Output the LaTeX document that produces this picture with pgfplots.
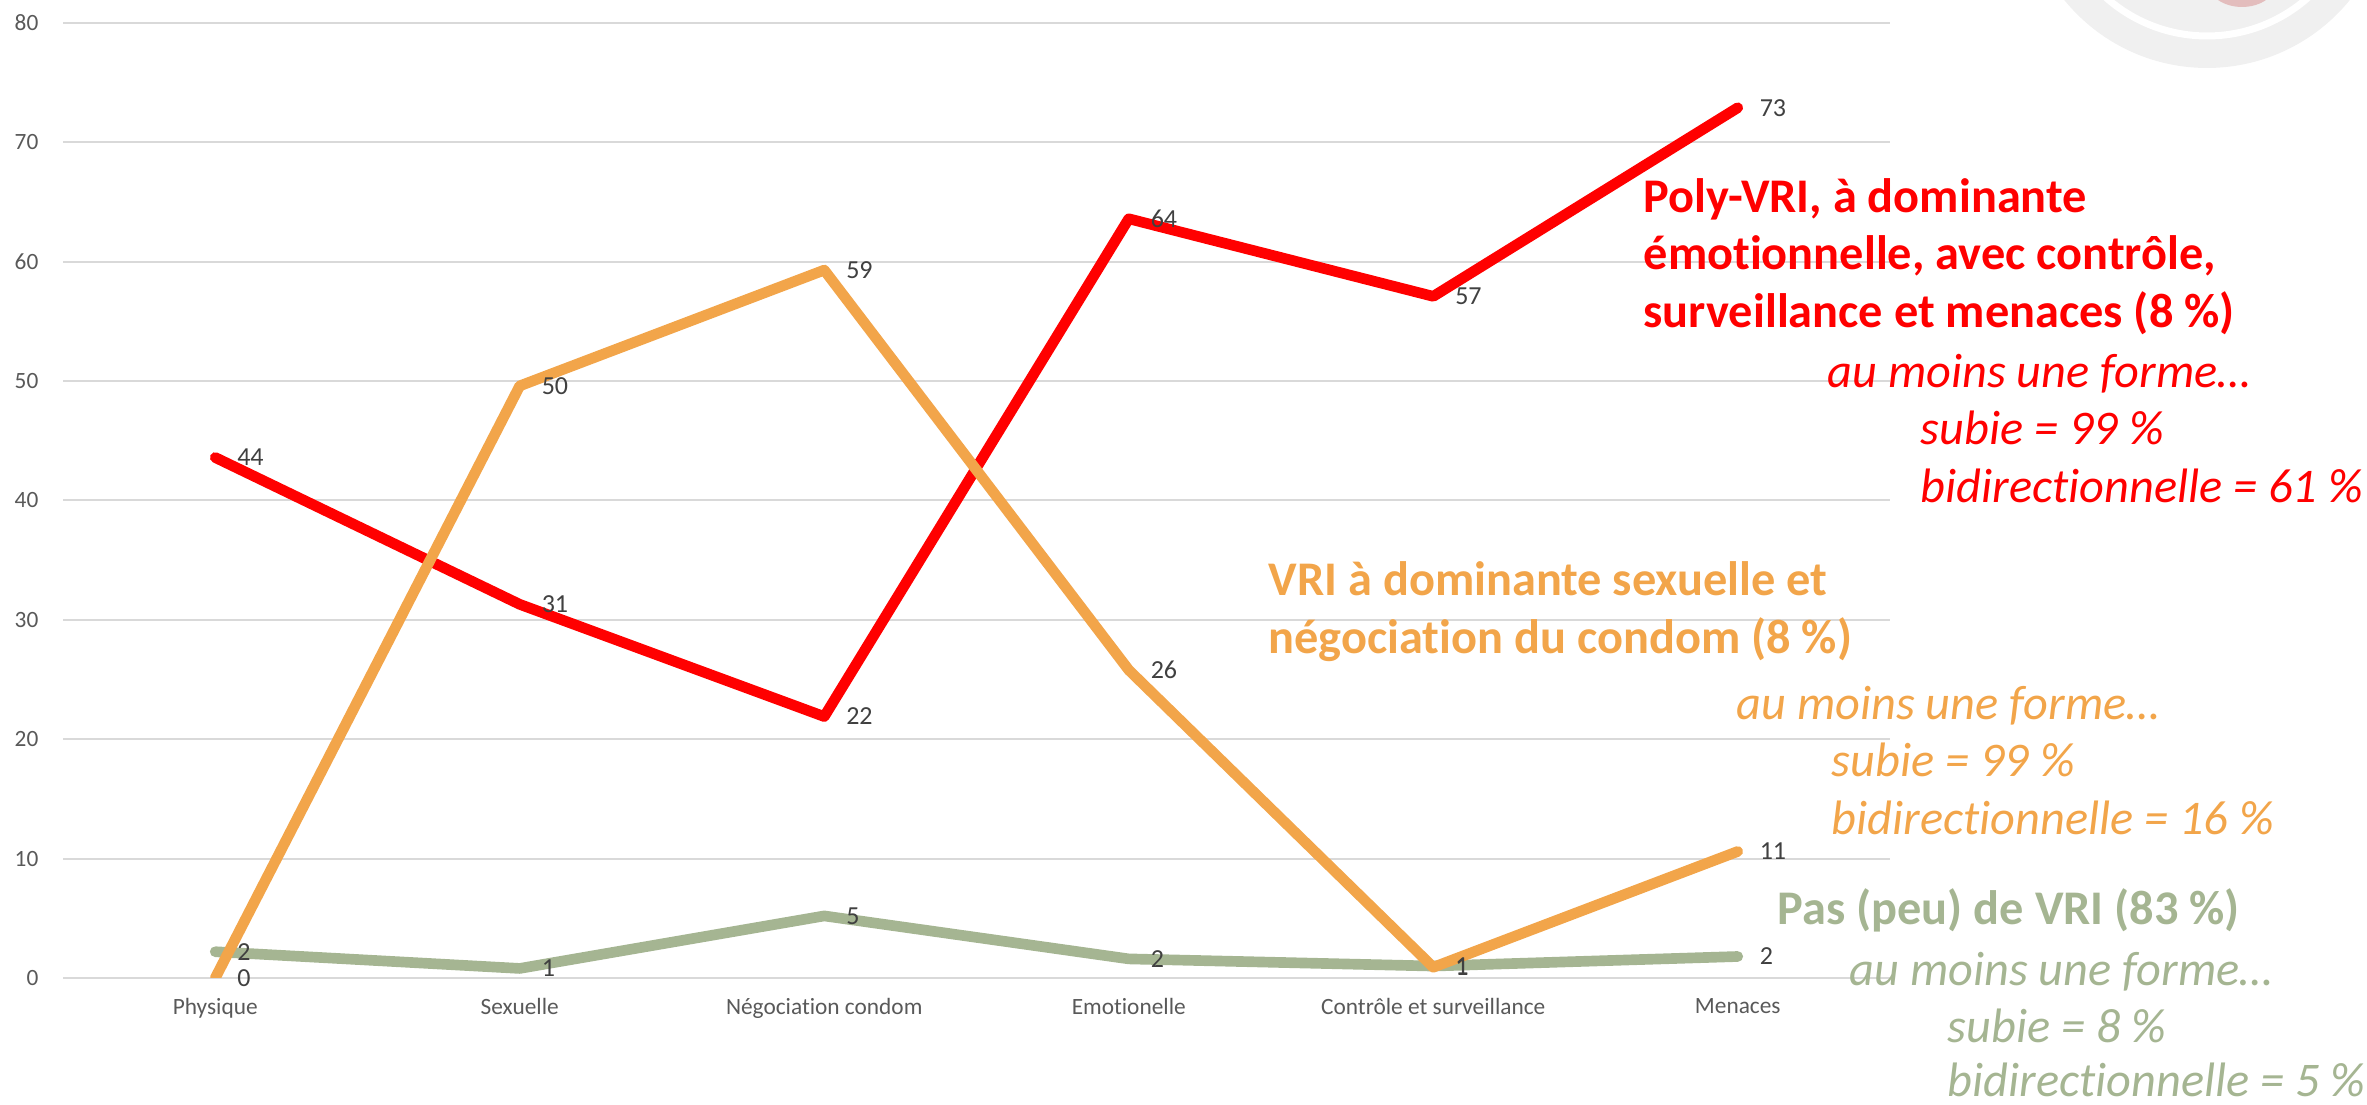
\documentclass[border=0pt]{standalone}
\usepackage{fontspec}
\setmainfont[Ligatures=NoCommon]{Carlito}
\usepackage{pgfplots}
\pgfplotsset{compat=1.18}
\definecolor{cred}{HTML}{FF0000}
\definecolor{corange}{HTML}{F2A54A}
\definecolor{cgreen}{HTML}{A5B592}
\definecolor{cgrid}{HTML}{D9D9D9}
\definecolor{ctick}{HTML}{595959}
\definecolor{clabel}{HTML}{404040}
\definecolor{clogo}{HTML}{F0F0F0}
\definecolor{cpink}{HTML}{E3BDBD}

\begin{document}
\begin{tikzpicture}[x=0.3pt,y=0.3pt]
\path[use as bounding box] (0,0) rectangle (2367,1105);
% decorative logo, top right (partly cut off)
\begin{scope}
\clip (0,0) rectangle (2367,1105);
\fill[clogo] (2207,1221) circle (184);
\draw[white, line width=2.1pt] (2207,1221) circle (152);
\fill[cpink] (2242,1122) ellipse (34 and 24);
\end{scope}

\begin{axis}[
  at={(18.9pt,38.1pt)}, anchor=south west,
  width=548.1pt, height=286.5pt, scale only axis,
  xmin=-0.5, xmax=5.5, ymin=0, ymax=80,
  ytick={0,10,...,80},
  xtick={0,1,2,3,4,5},
  xticklabels={Physique,Sexuelle,Négociation condom,Emotionelle,Contrôle et surveillance,Menaces},
  axis line style={draw=none},
  major tick length=0pt,
  ymajorgrids,
  grid style={cgrid, line width=0.6pt},
  /pgf/number format/assume math mode=true,
  tick label style={font=\fontsize{7}{8}\selectfont, text=ctick},
  yticklabel style={inner sep=0pt, xshift=-7.2pt},
  xticklabel style={inner sep=0pt, yshift=-6pt},
  nodes near coords,
  nodes near coords style={font=\fontsize{7.8}{9}\selectfont, text=clabel, anchor=west, inner sep=0pt, xshift=5pt,
     /pgf/number format/.cd, fixed, precision=0, assume math mode=true},
  every axis plot/.append style={line width=3.2pt, line join=round, line cap=round, mark=none},
]
\addplot[cgreen] coordinates {(0,2.2) (1,0.8) (2,5.2) (3,1.6) (4,1.0) (5,1.8)};
\addplot[cred] coordinates {(0,43.6) (1,31.3) (2,21.9) (3,63.6) (4,57.1) (5,72.9)};
\addplot[corange] coordinates {(0,0) (1,49.6) (2,59.3) (3,25.8) (4,0.9) (5,10.6)};
\end{axis}

% annotations
\begin{scope}[every node/.style={anchor=base west, inner sep=0pt}]
\node[text=cred, font=\fontsize{14.5}{16}\selectfont\bfseries] at (1643,892) {Poly-VRI, à dominante};
\node[text=cred, font=\fontsize{14.5}{16}\selectfont\bfseries] at (1643,835) {émotionnelle, avec contrôle,};
\node[text=cred, font=\fontsize{14.5}{16}\selectfont\bfseries] at (1643,777) {surveillance et menaces (8 \%)};
\node[text=cred, font=\fontsize{14.5}{16}\selectfont\itshape] at (1827,717) {au moins une forme…};
\node[text=cred, font=\fontsize{14.5}{16}\selectfont\itshape] at (1920,660) {subie = 99 \%};
\node[text=cred, font=\fontsize{14.5}{16}\selectfont\itshape] at (1920,602) {bidirectionnelle = 61 \%};

\node[text=corange, font=\fontsize{14.5}{16}\selectfont\bfseries] at (1268,509) {VRI à dominante sexuelle et};
\node[text=corange, font=\fontsize{14.5}{16}\selectfont\bfseries] at (1268,451) {négociation du condom (8 \%)};
\node[text=corange, font=\fontsize{14.5}{16}\selectfont\itshape] at (1736,385) {au moins une forme…};
\node[text=corange, font=\fontsize{14.5}{16}\selectfont\itshape] at (1831,328) {subie = 99 \%};
\node[text=corange, font=\fontsize{14.5}{16}\selectfont\itshape] at (1831,270) {bidirectionnelle = 16 \%};

\node[text=cgreen, font=\fontsize{14.5}{16}\selectfont\bfseries] at (1777,180) {Pas (peu) de VRI (83 \%)};
\node[text=cgreen, font=\fontsize{14.5}{16}\selectfont\itshape] at (1849,119) {au moins une forme…};
\node[text=cgreen, font=\fontsize{14.5}{16}\selectfont\itshape] at (1947,62) {subie = 8 \%};
\node[text=cgreen, font=\fontsize{14.5}{16}\selectfont\itshape] at (1947,8) {bidirectionnelle = 5 \%};
\end{scope}
\end{tikzpicture}
\end{document}
